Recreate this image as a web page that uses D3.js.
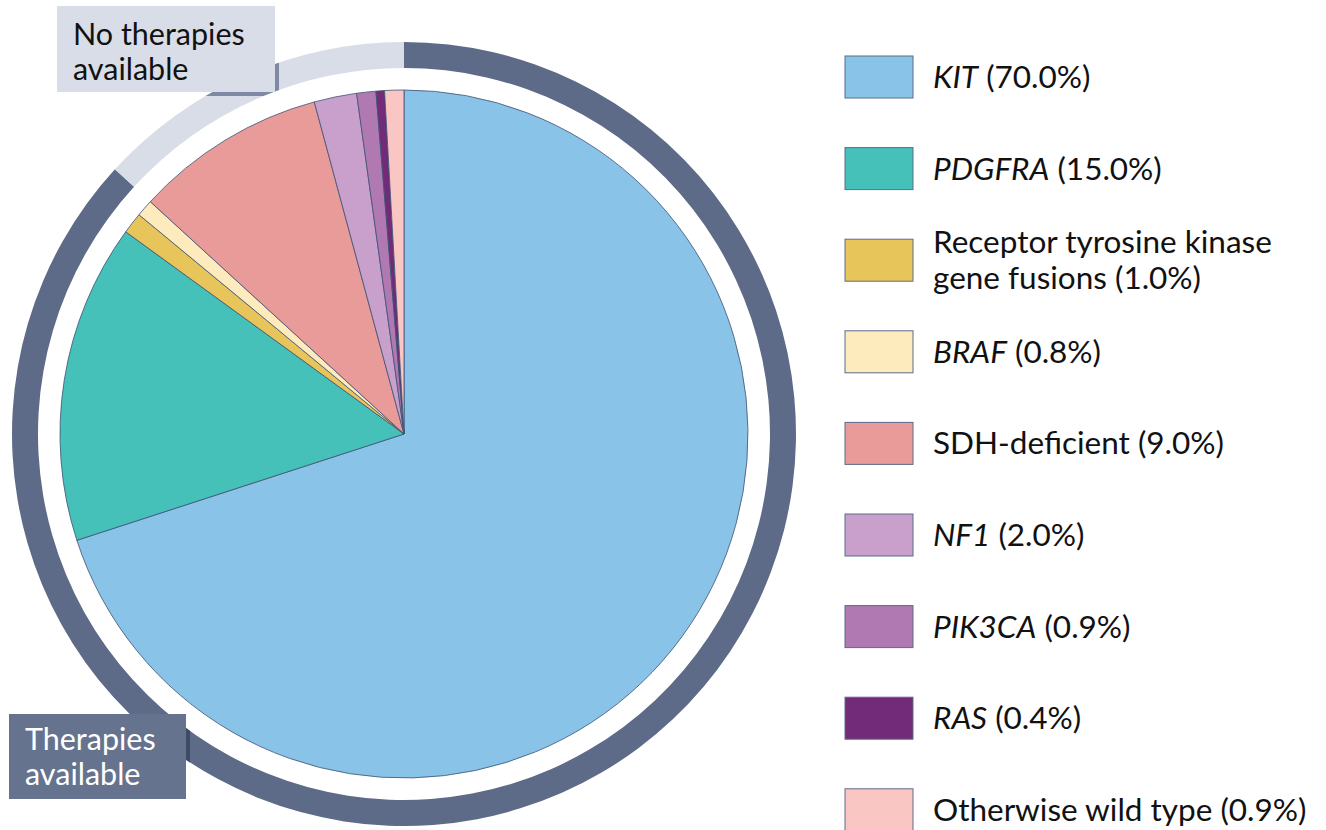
<!DOCTYPE html>
<html>
<head>
<meta charset="utf-8">
<script src="https://d3js.org/d3.v7.min.js"></script>
<style>
  body { margin: 0; background: #fff; }
  text { font-family: Lato, "Open Sans", sans-serif; }
</style>
</head>
<body>
<div id="chart"></div>
<script>
// categories, share (%), colours and whether a therapy exists
var names    = ["KIT", "PDGFRA", "Receptor tyrosine kinase gene fusions", "BRAF", "SDH-deficient", "NF1", "PIK3CA", "RAS", "Otherwise wild type"];
var values   = [70.0, 15.0, 1.0, 0.8, 9.0, 2.0, 0.9, 0.4, 0.9];
var italic   = [true, true, false, true, false, true, true, true, false];
var colors   = ["#89c3e7", "#45c1b9", "#e8c55a", "#fdebbe", "#e99b9a", "#c9a0cb", "#b179b2", "#722b78", "#f9c6c3"];
var therapy  = [true, true, true, true, false, false, false, false, false];
// legend text split into lines ("|" separates the italic gene name)
var legendLines = [
  ["KIT|(70.0%)"],
  ["PDGFRA|(15.0%)"],
  ["Receptor tyrosine kinase", "gene fusions (1.0%)"],
  ["BRAF|(0.8%)"],
  ["SDH-deficient (9.0%)"],
  ["NF1|(2.0%)"],
  ["PIK3CA|(0.9%)"],
  ["RAS|(0.4%)"],
  ["Otherwise wild type (0.9%)"]
];

var W = 1326, H = 830;
var cx = 404, cy = 434;
var rPie = 344, rIn = 366, rOut = 392;

var svg = d3.select("#chart").append("svg")
    .attr("width", W)
    .attr("height", H);

var data = names.map(function(n, i) { return {name: n, value: values[i], color: colors[i], therapy: therapy[i]}; });

var pie = d3.pie().sort(null).value(function(d) { return d.value; });
var arcs = pie(data);

var g = svg.append("g").attr("transform", "translate(" + cx + "," + cy + ")");

// outer ring: group consecutive slices by therapy availability
var ring = [];
arcs.forEach(function(a) {
  var last = ring[ring.length - 1];
  if (last && last.therapy === a.data.therapy) last.endAngle = a.endAngle;
  else ring.push({therapy: a.data.therapy, startAngle: a.startAngle, endAngle: a.endAngle});
});

var ringArc = d3.arc().innerRadius(rIn).outerRadius(rOut);
g.selectAll("path.ring")
  .data(ring)
  .enter().append("path")
    .attr("class", "ring")
    .attr("d", ringArc)
    .attr("fill", function(d) { return d.therapy ? "#5d6b88" : "#d9dde7"; });

// clip for the box shadows (visible only over the ring)
svg.append("clipPath").attr("id", "ringclip")
  .append("path")
    .attr("transform", "translate(" + cx + "," + cy + ")")
    .attr("d", ringArc({startAngle: 0, endAngle: 2 * Math.PI}));

var sliceArc = d3.arc().innerRadius(0).outerRadius(rPie);
g.selectAll("path.slice")
  .data(arcs)
  .enter().append("path")
    .attr("class", "slice")
    .attr("d", sliceArc)
    .attr("fill", function(d) { return d.data.color; })
    .attr("stroke", "#3f5272")
    .attr("stroke-width", 0.8)
    .attr("stroke-linejoin", "round");

// callout boxes
var boxes = [
  {x: 57, y: 6, w: 218, h: 86, fill: "#d9dde7", shadow: "#8089a3", color: "#111", lines: ["No therapies", "available"], tx: 73, ty: 45},
  {x: 9, y: 714, w: 177, h: 85, fill: "#66738f", shadow: "#3e4a66", color: "#fff", lines: ["Therapies", "available"], tx: 25, ty: 750}
];
boxes.forEach(function(b) {
  svg.append("rect")
    .attr("x", b.x + 4).attr("y", b.y + 4)
    .attr("width", b.w).attr("height", b.h)
    .attr("fill", b.shadow)
    .attr("clip-path", "url(#ringclip)");
  svg.append("rect")
    .attr("x", b.x).attr("y", b.y)
    .attr("width", b.w).attr("height", b.h)
    .attr("fill", b.fill);
  var t = svg.append("text")
    .attr("x", b.tx).attr("y", b.ty)
    .attr("fill", b.color)
    .style("font-size", "30.5px");
  b.lines.forEach(function(l, i) {
    t.append("tspan").attr("x", b.tx).attr("dy", i ? 35 : 0).text(l);
  });
});

// legend
var legend = svg.append("g");
var rowY = d3.scaleLinear().domain([0, 1]).range([56, 147.6]);
data.forEach(function(d, i) {
  var y0 = rowY(i);
  legend.append("rect")
    .attr("x", 845).attr("y", y0)
    .attr("width", 68).attr("height", 42)
    .attr("fill", d.color)
    .attr("stroke", "#5d6b88")
    .attr("stroke-width", 1);
  var lines = legendLines[i];
  var baseY = lines.length > 1 ? y0 + 14 : y0 + 32;
  var t = legend.append("text")
    .attr("x", 933).attr("y", baseY)
    .attr("fill", "#111")
    .style("font-size", "31.5px");
  lines.forEach(function(l, j) {
    var parts = l.split("|");
    if (parts.length > 1) {
      t.append("tspan").attr("x", 933).attr("dy", j ? 36 : 0)
        .style("font-style", italic[i] ? "italic" : "normal").text(parts[0]);
      t.append("tspan").text(" " + parts[1]);
    } else {
      t.append("tspan").attr("x", 933).attr("dy", j ? 36 : 0).text(l);
    }
  });
});
</script>
</body>
</html>
